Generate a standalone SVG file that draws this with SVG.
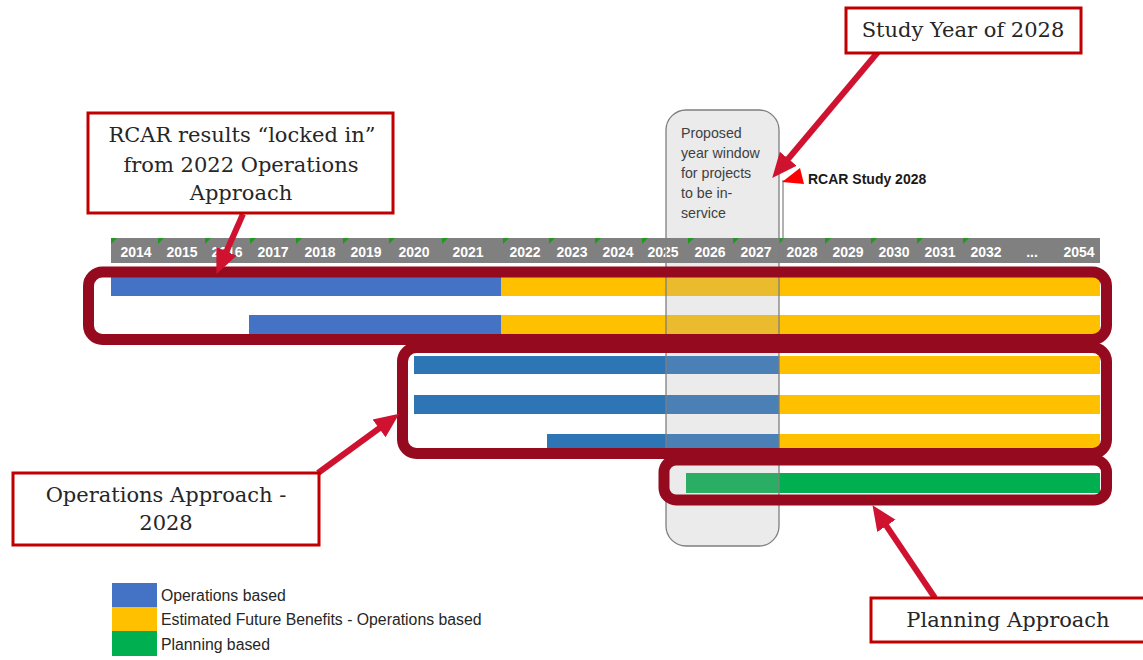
<svg xmlns="http://www.w3.org/2000/svg" width="1143" height="660" viewBox="0 0 1143 660">
<style>
.yr{font-family:"Liberation Sans",Arial,sans-serif;font-weight:bold;font-size:14px;fill:#ffffff;text-anchor:middle}
.tick{fill:#1f9a1f}
.frame{fill:none;stroke:#950a1f;stroke-width:11}
.call{fill:#ffffff;stroke:#c00000;stroke-width:3}
.ct{font-family:"DejaVu Serif","Liberation Serif",serif;font-size:21px;fill:#262626;text-anchor:middle}
.arr{stroke:#cf1230;stroke-width:6;fill:none}
.wt{font-family:"Liberation Sans",Arial,sans-serif;font-size:14.2px;fill:#404040}
.lg{font-family:"Liberation Sans",Arial,sans-serif;font-size:15.8px;fill:#262626}
.blue1{fill:#4472c4}.blue2{fill:#2e75b6}.blueT{fill:#4a80b5}
.yel{fill:#ffc000}.yelT{fill:#ebbb2e}
.grn{fill:#00b050}.grnT{fill:#2aae64}
</style>
<defs>
<marker id="ah" markerUnits="userSpaceOnUse" markerWidth="26" markerHeight="24" viewBox="0 0 26 24" refX="16" refY="12" orient="auto">
<path d="M0,1 L25,12 L0,23 z" fill="#cf1230"/>
</marker>
</defs>
<rect width="1143" height="660" fill="#ffffff"/>

<g id="window-fill">
<rect x="666" y="110" width="113" height="436" rx="20" fill="#ebebeb"/>
</g>

<g id="header">
<rect x="111" y="238" width="989" height="25" fill="#808080"/>
<g class="tick">
<polygon points="111,238 117,238 111,244"/>
<polygon points="158,238 164,238 158,244"/>
<polygon points="205,238 211,238 205,244"/>
<polygon points="250,238 256,238 250,244"/>
<polygon points="296,238 302,238 296,244"/>
<polygon points="343,238 349,238 343,244"/>
<polygon points="389,238 395,238 389,244"/>
<polygon points="442,238 448,238 442,244"/>
<polygon points="503,238 509,238 503,244"/>
<polygon points="549,238 555,238 549,244"/>
<polygon points="595,238 601,238 595,244"/>
<polygon points="642,238 648,238 642,244"/>
<polygon points="688,238 694,238 688,244"/>
<polygon points="733,238 739,238 733,244"/>
<polygon points="779,238 785,238 779,244"/>
<polygon points="825,238 831,238 825,244"/>
<polygon points="871,238 877,238 871,244"/>
<polygon points="917,238 923,238 917,244"/>
<polygon points="963,238 969,238 963,244"/>
</g>
<text class="yr" x="136" y="257">2014</text>
<text class="yr" x="182" y="257">2015</text>
<text class="yr" x="227" y="257">2016</text>
<text class="yr" x="273" y="257">2017</text>
<text class="yr" x="320" y="257">2018</text>
<text class="yr" x="366" y="257">2019</text>
<text class="yr" x="414" y="257">2020</text>
<text class="yr" x="468" y="257">2021</text>
<text class="yr" x="525" y="257">2022</text>
<text class="yr" x="572" y="257">2023</text>
<text class="yr" x="618" y="257">2024</text>
<text class="yr" x="663" y="257">2025</text>
<text class="yr" x="710" y="257">2026</text>
<text class="yr" x="756" y="257">2027</text>
<text class="yr" x="802" y="257">2028</text>
<text class="yr" x="848" y="257">2029</text>
<text class="yr" x="894" y="257">2030</text>
<text class="yr" x="940" y="257">2031</text>
<text class="yr" x="986" y="257">2032</text>
<text class="yr" x="1032" y="257">...</text>
<text class="yr" x="1079" y="257">2054</text>
</g>

<g id="bars">
<rect class="blue1" x="111" y="277" width="390" height="19"/>
<rect class="yel" x="501" y="277" width="165" height="19"/>
<rect class="yelT" x="666" y="277" width="113" height="19"/>
<rect class="yel" x="779" y="277" width="321" height="19"/>

<rect class="blue1" x="249" y="315" width="252" height="19"/>
<rect class="yel" x="501" y="315" width="165" height="19"/>
<rect class="yelT" x="666" y="315" width="113" height="19"/>
<rect class="yel" x="779" y="315" width="321" height="19"/>

<rect class="blue2" x="414" y="356" width="252" height="18"/>
<rect class="blueT" x="666" y="356" width="113" height="18"/>
<rect class="yel" x="779" y="356" width="321" height="18"/>

<rect class="blue2" x="414" y="395" width="252" height="19"/>
<rect class="blueT" x="666" y="395" width="113" height="19"/>
<rect class="yel" x="779" y="395" width="321" height="19"/>

<rect class="blue2" x="547" y="434" width="119" height="19"/>
<rect class="blueT" x="666" y="434" width="113" height="19"/>
<rect class="yel" x="779" y="434" width="321" height="19"/>

<rect class="grnT" x="686" y="473" width="93" height="20"/>
<rect class="grn" x="779" y="473" width="321" height="20"/>
</g>

<g id="window">
<rect x="666" y="110" width="113" height="436" rx="20" fill="none" stroke="#7f7f7f" stroke-width="1.3"/>
<text class="wt" x="681" y="138">Proposed</text>
<text class="wt" x="681" y="158">year window</text>
<text class="wt" x="681" y="178">for projects</text>
<text class="wt" x="681" y="198">to be in-</text>
<text class="wt" x="681" y="218">service</text>
</g>

<g id="rcar-study-marker">
<line x1="783" y1="180" x2="783" y2="262" stroke="#7f7f7f" stroke-width="1.2"/>
<polygon points="782,182 800,168 804,184" fill="#ff0000"/>
<text x="808" y="184" font-family="Liberation Sans, Arial, sans-serif" font-weight="bold" font-size="14" fill="#1a1a1a">RCAR Study 2028</text>
</g>

<g id="frames">
<rect class="frame" x="88.5" y="272" width="1018" height="67.5" rx="14"/>
<rect class="frame" x="402.5" y="347.5" width="704" height="106" rx="14"/>
<rect class="frame" x="664" y="460" width="442.5" height="40" rx="12"/>
</g>

<g id="connectors">
<line class="arr" x1="878" y1="52" x2="778" y2="171" marker-end="url(#ah)"/>
<line class="arr" x1="243" y1="214" x2="220" y2="266" marker-end="url(#ah)"/>
<line class="arr" x1="318" y1="473" x2="392" y2="419" marker-end="url(#ah)"/>
<line class="arr" x1="935" y1="598" x2="877.5" y2="512.6" marker-end="url(#ah)"/>
</g>

<g id="callout-study-year">
<rect class="call" x="846" y="8" width="235" height="45"/>
<text class="ct" x="963" y="37">Study Year of 2028</text>
</g>

<g id="callout-rcar">
<rect class="call" x="88" y="113" width="305" height="100"/>
<text class="ct" x="242" y="142">RCAR results “locked in”</text>
<text class="ct" x="241" y="172">from 2022 Operations</text>
<text class="ct" x="241" y="200">Approach</text>
</g>

<g id="callout-operations">
<rect class="call" x="13" y="473" width="306" height="72"/>
<text class="ct" x="166" y="502">Operations Approach -</text>
<text class="ct" x="166" y="530">2028</text>
</g>

<g id="callout-planning">
<rect class="call" x="871" y="598" width="290" height="44"/>
<text class="ct" x="1008" y="627">Planning Approach</text>
</g>

<g id="legend">
<rect class="blue1" x="112" y="583" width="45" height="24"/>
<rect class="yel" x="112" y="607" width="45" height="24"/>
<rect class="grn" x="112" y="631" width="45" height="25"/>
<text class="lg" x="161" y="601">Operations based</text>
<text class="lg" x="161" y="625">Estimated Future Benefits - Operations based</text>
<text class="lg" x="161" y="650">Planning based</text>
</g>
</svg>
